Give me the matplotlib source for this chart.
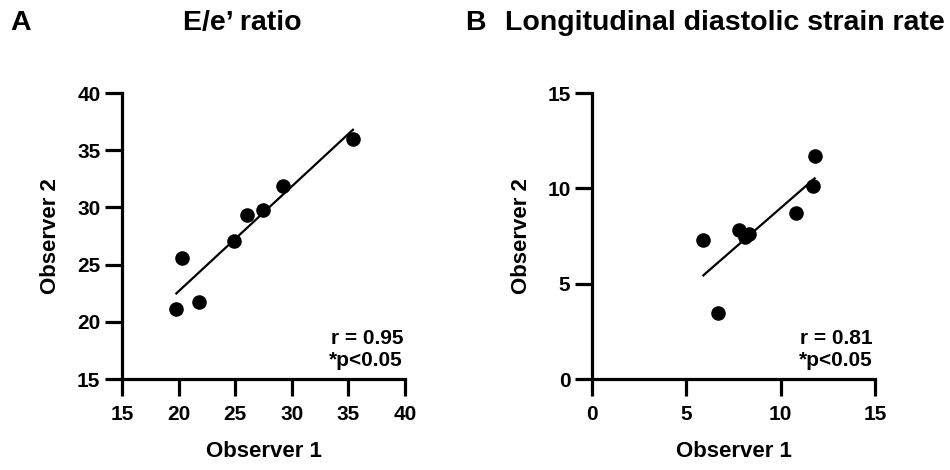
import numpy as np
import matplotlib
matplotlib.use('Agg')
import matplotlib.pyplot as plt

plt.rcParams['font.family'] = 'Liberation Sans'
plt.rcParams['font.weight'] = 'bold'

# E/e' ratio, observer 1 vs observer 2
ee_obs1 = [19.8, 20.3, 21.8, 24.9, 26.0, 27.5, 29.2, 35.4]
ee_obs2 = [21.1, 25.6, 21.7, 27.1, 29.3, 29.8, 31.9, 36.0]
ee_ticks = [15, 20, 25, 30, 35, 40]
ee_r = 'r = 0.95'

# longitudinal diastolic strain rate
sr_obs1 = [5.9, 6.7, 7.8, 8.1, 8.3, 10.8, 11.7, 11.8]
sr_obs2 = [7.3, 3.45, 7.8, 7.45, 7.6, 8.7, 10.1, 11.7]
sr_ticks = [0, 5, 10, 15]
sr_r = 'r = 0.81'

p_text = '*p<0.05'

fig = plt.figure(figsize=(9.5, 4.7), dpi=100)
ax1 = fig.add_axes([0.1284, 0.1936, 0.2979, 0.6085])
ax2 = fig.add_axes([0.6232, 0.1936, 0.2979, 0.6085])


def panel(ax, x, y, ticks, rtxt):
    ax.scatter(x, y, s=110, color='black', zorder=3, linewidths=0, clip_on=False)
    k, b = np.polyfit(x, y, 1)
    xx = np.array([min(x), max(x)])
    ax.plot(xx, k * xx + b, color='black', lw=1.6)
    ax.set_xlim(ticks[0], ticks[-1])
    ax.set_ylim(ticks[0], ticks[-1])
    ax.set_xticks(ticks)
    ax.set_yticks(ticks)
    for s in ['top', 'right']:
        ax.spines[s].set_visible(False)
    for s in ['left', 'bottom']:
        ax.spines[s].set_linewidth(2.3)
    ax.tick_params(width=2.3, length=12, labelsize=15)
    ax.tick_params(axis='x', pad=7)
    ax.tick_params(axis='y', pad=3.5)
    for lab in ax.get_xticklabels() + ax.get_yticklabels():
        lab.set_fontweight('bold')
    ax.set_xlabel('Observer 1', fontsize=16, fontweight='bold')
    ax.set_ylabel('Observer 2', fontsize=16, fontweight='bold')
    ax.xaxis.set_label_coords(0.5, -0.255)
    ax.yaxis.set_label_coords(-0.251, 0.5)
    ax.xaxis.label.set_va('center')
    ax.yaxis.label.set_va('center')
    ax.text(0.993, 0.143, rtxt, transform=ax.transAxes, ha='right', va='center',
            fontsize=15, fontweight='bold')
    ax.text(0.993, 0.066, p_text, transform=ax.transAxes, ha='right', va='center',
            fontsize=15, fontweight='bold')


panel(ax1, ee_obs1, ee_obs2, ee_ticks, ee_r)
panel(ax2, sr_obs1, sr_obs2, sr_ticks, sr_r)

ty = 1 - 23 / 470
fig.text(10 / 950, ty, 'A', fontsize=20.5, fontweight='bold', va='center', ha='left')
fig.text(183 / 950, ty, 'E/e\u2019 ratio', fontsize=20.5, fontweight='bold', va='center', ha='left')
fig.text(465 / 950, ty, 'B', fontsize=20.5, fontweight='bold', va='center', ha='left')
fig.text(505 / 950, ty, 'Longitudinal diastolic strain rate', fontsize=20.5,
         fontweight='bold', va='center', ha='left')

fig.savefig('out.png', dpi=100)
